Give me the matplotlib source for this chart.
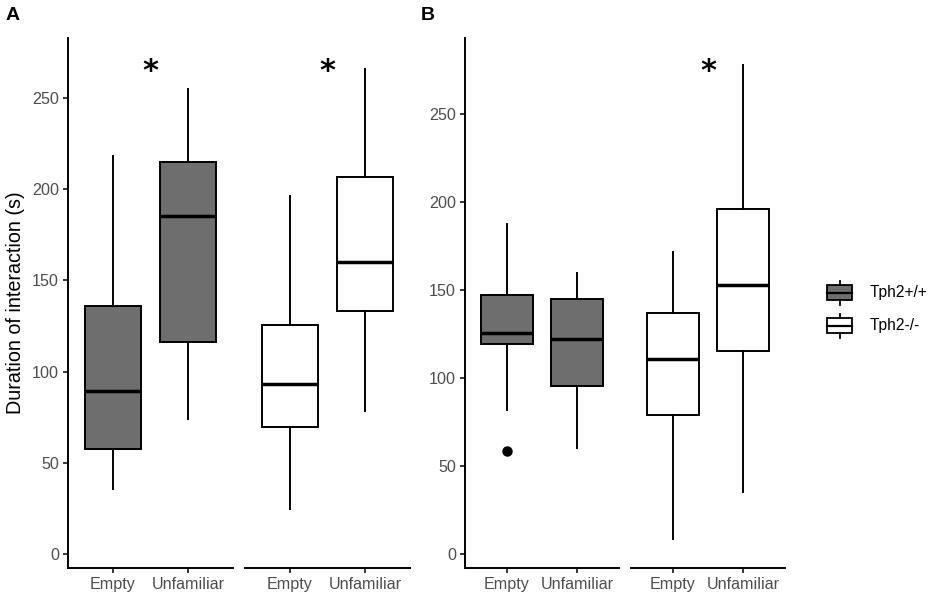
import matplotlib
matplotlib.use("Agg")
import matplotlib.pyplot as plt
from matplotlib.patches import Rectangle

# box statistics: [whislo, q1, median, q3, whishi]
conditions = ["Empty", "Unfamiliar"]
genotypes = ["Tph2+/+", "Tph2-/-"]

a_wt_empty = [35.7, 57.8, 89.4, 136.2, 218.5]
a_wt_unfam = [74.0, 116.5, 185.2, 215.2, 254.9]
a_ko_empty = [24.5, 69.7, 93.1, 125.6, 196.6]
a_ko_unfam = [78.4, 133.5, 160.0, 206.8, 266.0]

b_wt_empty = [81.8, 119.1, 125.4, 147.3, 187.3]
b_wt_unfam = [60.4, 95.5, 121.8, 144.5, 159.5]
b_ko_empty = [8.7, 78.8, 110.6, 136.8, 171.4]
b_ko_unfam = [35.4, 115.2, 152.8, 196.0, 277.5]

b_wt_empty_outliers = [58.7]

# asterisk heights per facet (None = no asterisk)
a_stars = [267.7, 267.7]
b_stars = [None, 276.9]

plt.rcParams["font.family"] = ["Liberation Sans", "DejaVu Sans"]

FILLS = {"Tph2+/+": "#6e6e6e", "Tph2-/-": "white"}
TICK_COL = "#4d4d4d"
W, H = 935, 601


def stats(vals, fliers=()):
    lo, q1, med, q3, hi = vals
    return dict(whislo=lo, q1=q1, med=med, q3=q3, whishi=hi, fliers=list(fliers))


def px_axes(fig, x0, x1, ytop, ybot):
    return fig.add_axes([x0 / W, (H - ybot) / H, (x1 - x0) / W, (ybot - ytop) / H])


def draw_facet(ax, boxes, fill, ylim, star, show_y):
    ax.bxp(boxes, positions=[1, 2], widths=0.75, showcaps=False, patch_artist=True,
           boxprops=dict(facecolor=fill, edgecolor="black", linewidth=1.4),
           whiskerprops=dict(color="black", linewidth=1.4),
           medianprops=dict(color="black", linewidth=2.5),
           flierprops=dict(marker="o", markerfacecolor="black", markeredgecolor="black",
                           markersize=6.5))
    ax.set_xlim(0.4, 2.6)
    ax.set_ylim(*ylim)
    ax.set_xticks([1, 2])
    ax.set_xticklabels(conditions)
    for s in ["top", "right"]:
        ax.spines[s].set_visible(False)
    ax.spines["bottom"].set_linewidth(1.4)
    ax.spines["left"].set_linewidth(1.4)
    ax.tick_params(axis="both", colors="black", labelcolor=TICK_COL, labelsize=11.6,
                   length=3.5, width=1.1, pad=3)
    if show_y:
        ax.set_yticks([0, 50, 100, 150, 200, 250])
    else:
        ax.spines["left"].set_visible(False)
        ax.tick_params(axis="y", left=False, labelleft=False)
    ax.patch.set_alpha(0)
    if star is not None:
        ax.annotate("*", (1.5, star), xytext=(0, -4), textcoords="offset points",
                    ha="center", va="center", fontsize=22, fontweight="bold",
                    family="DejaVu Sans", color="black")


fig = plt.figure(figsize=(W / 100, H / 100), dpi=100)

ylim_a = (-7.7, 283)
ylim_b = (-8, 293)

axA1 = px_axes(fig, 68, 233, 38, 568)
axA2 = px_axes(fig, 245, 410, 38, 568)
axB1 = px_axes(fig, 465, 619, 38, 568)
axB2 = px_axes(fig, 631, 785, 38, 568)

draw_facet(axA1, [stats(a_wt_empty), stats(a_wt_unfam)], FILLS["Tph2+/+"], ylim_a, a_stars[0], True)
draw_facet(axA2, [stats(a_ko_empty), stats(a_ko_unfam)], FILLS["Tph2-/-"], ylim_a, a_stars[1], False)
draw_facet(axB1, [stats(b_wt_empty, b_wt_empty_outliers), stats(b_wt_unfam)], FILLS["Tph2+/+"], ylim_b, b_stars[0], True)
draw_facet(axB2, [stats(b_ko_empty), stats(b_ko_unfam)], FILLS["Tph2-/-"], ylim_b, b_stars[1], False)

axA1.set_ylabel("Duration of interaction (s)", fontsize=14.2, color="black", labelpad=5)

fig.text(6 / W, 1 - 16 / H, "A", fontsize=14, fontweight="bold", va="center", ha="left")
fig.text(421 / W, 1 - 16 / H, "B", fontsize=14, fontweight="bold", va="center", ha="left")

# legend: small boxplot glyphs
leg = fig.add_axes([0, 0, 1, 1])
leg.set_xlim(0, W)
leg.set_ylim(H, 0)
leg.axis("off")
leg.patch.set_alpha(0)
for i, g in enumerate(genotypes):
    yc = 292.5 + i * 33
    leg.add_patch(Rectangle((827, yc - 7.5), 25, 15, facecolor=FILLS[g], edgecolor="black", lw=1.3))
    leg.plot([827, 852], [yc, yc], color="black", lw=1.6)
    leg.plot([839.5, 839.5], [yc - 12, yc - 7.5], color="black", lw=1.3)
    leg.plot([839.5, 839.5], [yc + 7.5, yc + 12], color="black", lw=1.3)
    leg.text(870, yc, g, fontsize=11.2, va="center", ha="left", color="black")

fig.savefig("out.png", dpi=100)
